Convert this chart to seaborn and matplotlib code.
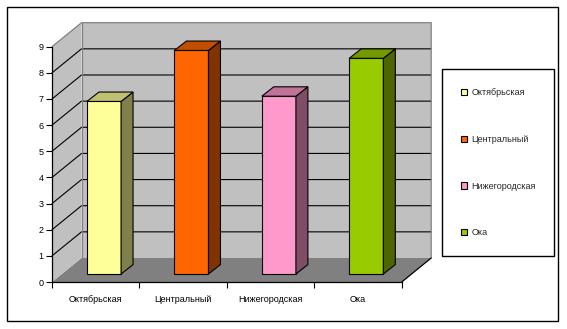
import matplotlib
matplotlib.use("Agg")
import matplotlib.pyplot as plt
import seaborn as sns
import pandas as pd
from matplotlib.patches import Polygon, Rectangle, Patch
from matplotlib.lines import Line2D

# ---- data ----
categories = ["Октябрьская", "Центральный", "Нижегородская", "Ока"]
values = [6.6, 8.55, 6.8, 8.25]
front_colors = ["#FFFF99", "#FF6600", "#FF99CC", "#99CC00"]
side_colors = ["#80804D", "#803300", "#804D66", "#4D6600"]
top_colors = ["#C0C073", "#C04D00", "#C07399", "#739900"]
y_ticks = list(range(0, 10))

sns.set_theme(style="white")
plt.rcParams["font.family"] = ["Liberation Sans", "DejaVu Sans"]

W, H = 567, 329
fig = plt.figure(figsize=(W / 100, H / 100), dpi=100)
fig.patch.set_facecolor("white")

ax = fig.add_axes([52 / W, 1 - 282 / H, 349.7 / W, 235.3 / H])
ax.set_facecolor("none")

df = pd.DataFrame({"cat": categories, "val": values})
sns.barplot(data=df, x="cat", y="val", hue="cat", palette=front_colors,
            width=0.39, saturation=1, edgecolor="black", linewidth=0.8,
            legend=False, ax=ax, zorder=5)

ax.set_xlim(-0.5, 3.5)
ax.set_ylim(0, 9)

# depth vectors (data units)
DX, DY = 0.3375, 0.918
shift_x, shift_y = 0.095, 0.306
bdx, bdy = 0.137, 0.36
wall = "#C0C0C0"
floor = "#808080"
edge_gray = "#808080"

x0w, x1w = -0.5, 3.5
# floor
ax.add_patch(Polygon([(x0w, 0), (x1w, 0), (x1w + DX, DY), (x0w + DX, DY)],
                     closed=True, fc=floor, ec="none", zorder=0.5, clip_on=False))
# left wall
ax.add_patch(Polygon([(x0w, 0), (x0w, 9), (x0w + DX, 9 + DY), (x0w + DX, DY)],
                     closed=True, fc=wall, ec="none", zorder=0.5, clip_on=False))
# back wall
ax.add_patch(Polygon([(x0w + DX, DY), (x1w + DX, DY), (x1w + DX, 9 + DY), (x0w + DX, 9 + DY)],
                     closed=True, fc=wall, ec="none", zorder=0.5, clip_on=False))

# gridlines
for k in y_ticks[1:-1]:
    ax.add_line(Line2D([x0w, x0w + DX, x1w + DX], [k, k + DY, k + DY],
                       color="black", lw=0.8, zorder=1, clip_on=False))
# wall edges (gray)
ax.add_line(Line2D([x0w, x0w + DX, x1w + DX, x1w + DX], [9, 9 + DY, 9 + DY, DY],
                   color=edge_gray, lw=0.9, zorder=1.2, clip_on=False))
ax.add_line(Line2D([x0w + DX, x0w + DX], [DY, 9 + DY],
                   color=edge_gray, lw=0.9, zorder=1.2, clip_on=False))
# floor right edge
ax.add_line(Line2D([x1w, x1w + DX], [0, DY], color="black", lw=0.9,
                   zorder=1.3, clip_on=False))

# bars: shift front faces to mid-depth and add sides / tops
for i, cont in enumerate(ax.containers):
    for p in cont:
        x0 = p.get_x() + shift_x
        p.set_x(x0)
        p.set_y(shift_y)
        w = p.get_width()
        h = p.get_height()
        top = shift_y + h
        ax.add_patch(Polygon([(x0 + w, shift_y), (x0 + w + bdx, shift_y + bdy),
                              (x0 + w + bdx, top + bdy), (x0 + w, top)],
                             closed=True, fc=side_colors[i], ec="black", lw=0.8,
                             zorder=5, clip_on=False))
        ax.add_patch(Polygon([(x0, top), (x0 + w, top), (x0 + w + bdx, top + bdy),
                              (x0 + bdx, top + bdy)],
                             closed=True, fc=top_colors[i], ec="black", lw=0.8,
                             zorder=5, clip_on=False))

# axes
ax.set_xlabel("")
ax.set_ylabel("")
ax.set_yticks(y_ticks)
ax.set_yticklabels([str(t) for t in y_ticks])
ax.set_xticks(range(len(categories)))
ax.set_xticklabels(categories)
ax.set_xticks([-0.5, 0.5, 1.5, 2.5, 3.5], minor=True)
ax.tick_params(axis="y", which="major", left=True, direction="out", length=4,
               width=0.8, pad=2, labelsize=6.5, colors="black")
ax.tick_params(axis="x", which="major", bottom=True, length=0, pad=9,
               labelsize=6.5, colors="black")
ax.tick_params(axis="x", which="minor", bottom=True, direction="out", length=4,
               width=0.8, colors="black")
for s in ["top", "right"]:
    ax.spines[s].set_visible(False)
for s in ["left", "bottom"]:
    ax.spines[s].set_color("black")
    ax.spines[s].set_linewidth(0.9)
    ax.spines[s].set_zorder(3)

# legend
handles = [Patch(facecolor=c, edgecolor="black", linewidth=0.8, label=l)
           for c, l in zip(front_colors, categories)]
leg = fig.legend(handles=handles, loc="upper left",
                 bbox_to_anchor=(442 / W, 1 - 255 / H, 112 / W, 185.7 / H),
                 bbox_transform=fig.transFigure, mode="expand",
                 fontsize=6.5, frameon=True, fancybox=False, framealpha=1,
                 edgecolor="black", borderpad=2.1, labelspacing=4.18,
                 handlelength=0.7, handleheight=0.7, handletextpad=0.45,
                 borderaxespad=0)
leg.get_frame().set_linewidth(1.0)

# outer chart border
fig.add_artist(Rectangle((7 / W, 1 - 321 / H), 551 / W, 314 / H,
                         transform=fig.transFigure, fill=False,
                         edgecolor="black", linewidth=1.0))

fig.savefig("out.png", dpi=100)
